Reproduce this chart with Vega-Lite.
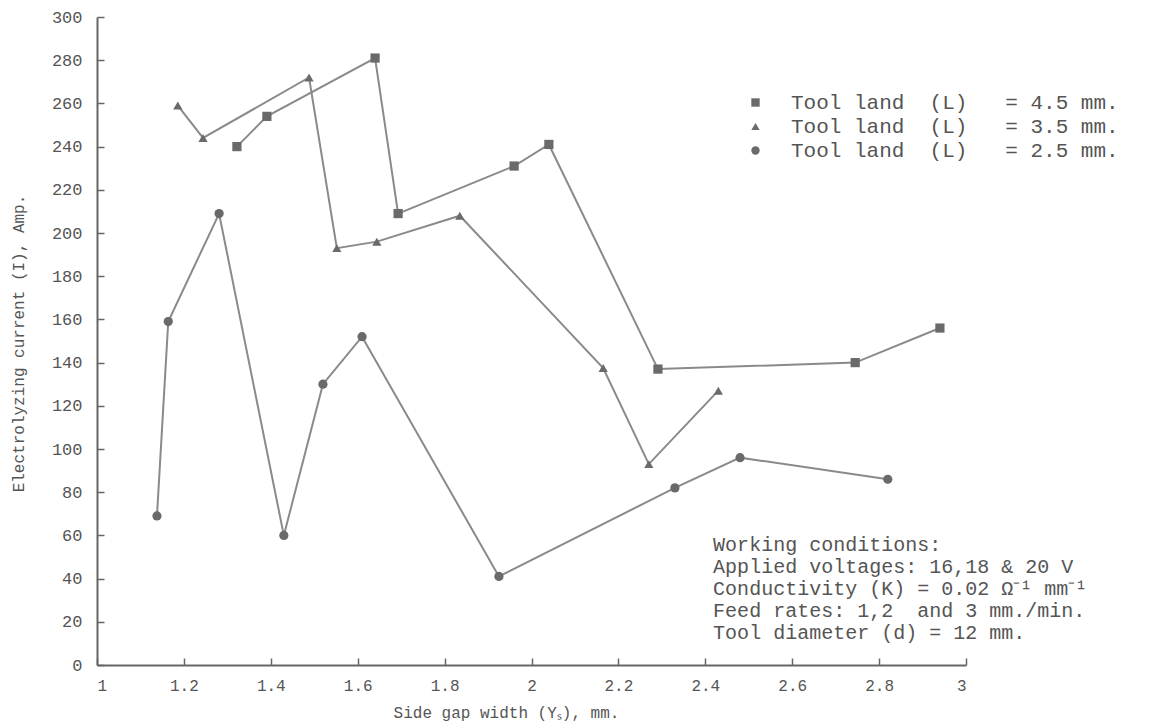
{
  "$schema": "https://vega.github.io/schema/vega-lite/v6.json",
  "width": 869,
  "height": 648,
  "autosize": {"type": "none"},
  "padding": {"left": 97, "top": 17, "right": 183, "bottom": 62},
  "background": "white",
  "config": {"view": {"stroke": null}, "font": "Liberation Mono"},
  "datasets": {
    "series": [
      {"land": "4.5", "gap": 1.322, "current": 240},
      {"land": "4.5", "gap": 1.391, "current": 254},
      {"land": "4.5", "gap": 1.640, "current": 281},
      {"land": "4.5", "gap": 1.693, "current": 209},
      {"land": "4.5", "gap": 1.960, "current": 231},
      {"land": "4.5", "gap": 2.040, "current": 241},
      {"land": "4.5", "gap": 2.291, "current": 137},
      {"land": "4.5", "gap": 2.745, "current": 140},
      {"land": "4.5", "gap": 2.940, "current": 156},
      {"land": "3.5", "gap": 1.186, "current": 259},
      {"land": "3.5", "gap": 1.244, "current": 244},
      {"land": "3.5", "gap": 1.488, "current": 272},
      {"land": "3.5", "gap": 1.552, "current": 193},
      {"land": "3.5", "gap": 1.644, "current": 196},
      {"land": "3.5", "gap": 1.835, "current": 208},
      {"land": "3.5", "gap": 2.165, "current": 137.5},
      {"land": "3.5", "gap": 2.27, "current": 93},
      {"land": "3.5", "gap": 2.43, "current": 127},
      {"land": "2.5", "gap": 1.138, "current": 69},
      {"land": "2.5", "gap": 1.164, "current": 159},
      {"land": "2.5", "gap": 1.281, "current": 209},
      {"land": "2.5", "gap": 1.43, "current": 60},
      {"land": "2.5", "gap": 1.52, "current": 130},
      {"land": "2.5", "gap": 1.61, "current": 152},
      {"land": "2.5", "gap": 1.925, "current": 41},
      {"land": "2.5", "gap": 2.33, "current": 82},
      {"land": "2.5", "gap": 2.48, "current": 96},
      {"land": "2.5", "gap": 2.82, "current": 86}
    ]
  },
  "layer": [
    {
      "data": {"name": "series"},
      "mark": {"type": "line", "color": "#8a8a8a", "strokeWidth": 2},
      "encoding": {
        "x": {
          "field": "gap",
          "type": "quantitative",
          "scale": {"domain": [1, 3], "nice": false, "zero": false},
          "axis": {
            "title": "Side gap width (Yₛ), mm.",
            "values": [1, 1.2, 1.4, 1.6, 1.8, 2, 2.2, 2.4, 2.6, 2.8, 3],
            "format": "~g",
            "grid": false,
            "domainColor": "#666666",
            "domainWidth": 2,
            "tickColor": "#666666",
            "tickWidth": 1.5,
            "tickSize": -7,
            "labelPadding": 19,
            "labelFont": "Liberation Mono",
            "labelFontSize": 16,
            "labelColor": "#555555",
            "titleFont": "Liberation Mono",
            "titleFontSize": 16,
            "titleFontWeight": "normal",
            "titleColor": "#555555",
            "titleX": 409,
            "titleY": 47,
            "titleBaseline": "middle"
          }
        },
        "y": {
          "field": "current",
          "type": "quantitative",
          "scale": {"domain": [0, 300], "nice": false},
          "axis": {
            "title": "Electrolyzing current (I), Amp.",
            "values": [0, 20, 40, 60, 80, 100, 120, 140, 160, 180, 200, 220, 240, 260, 280, 300],
            "grid": false,
            "domainColor": "#666666",
            "domainWidth": 2,
            "tickColor": "#666666",
            "tickWidth": 1.5,
            "tickSize": -7,
            "labelPadding": 22,
            "labelFont": "Liberation Mono",
            "labelFontSize": 17,
            "labelColor": "#555555",
            "titleFont": "Liberation Mono",
            "titleFontSize": 16,
            "titleFontWeight": "normal",
            "titleColor": "#555555",
            "titleX": -79,
            "titleY": 326,
            "titleBaseline": "middle"
          }
        },
        "detail": {"field": "land", "type": "nominal"}
      }
    },
    {
      "data": {"name": "series"},
      "mark": {"type": "point", "filled": true, "color": "#6a6a6a", "opacity": 1, "size": 85},
      "encoding": {
        "x": {"field": "gap", "type": "quantitative"},
        "y": {"field": "current", "type": "quantitative"},
        "shape": {
          "field": "land",
          "type": "nominal",
          "scale": {"domain": ["4.5", "3.5", "2.5"], "range": ["square", "triangle-up", "circle"]},
          "legend": {
            "orient": "none",
            "legendX": 648,
            "legendY": 75,
            "title": null,
            "padding": 0,
            "rowPadding": 2,
            "labelOffset": 25,
            "symbolSize": 70,
            "symbolFillColor": "#6a6a6a",
            "symbolStrokeColor": "#6a6a6a",
            "labelFont": "Liberation Mono",
            "labelFontSize": 21,
            "labelColor": "#555555",
            "labelLimit": 500,
            "labelExpr": "'Tool\u00a0land\u00a0\u00a0(L)\u00a0\u00a0\u00a0=\u00a0' + datum.label + '\u00a0mm.'"
          }
        }
      }
    },
    {
      "data": {"values": [{"note": "working conditions"}]},
      "mark": {
        "type": "text",
        "align": "left",
        "baseline": "middle",
        "font": "Liberation Mono",
        "fontSize": 20,
        "lineHeight": 22,
        "color": "#555555",
        "text": [
          "Working conditions:",
          "Applied voltages: 16,18 & 20 V",
          "Conductivity (K) = 0.02 Ω⁻¹ mm⁻¹",
          "Feed rates: 1,2\u00a0 and 3 mm./min.",
          "Tool diameter (d) = 12 mm."
        ]
      },
      "encoding": {
        "x": {"datum": 2.418, "type": "quantitative"},
        "y": {"datum": 55.6, "type": "quantitative"}
      }
    }
  ]
}
